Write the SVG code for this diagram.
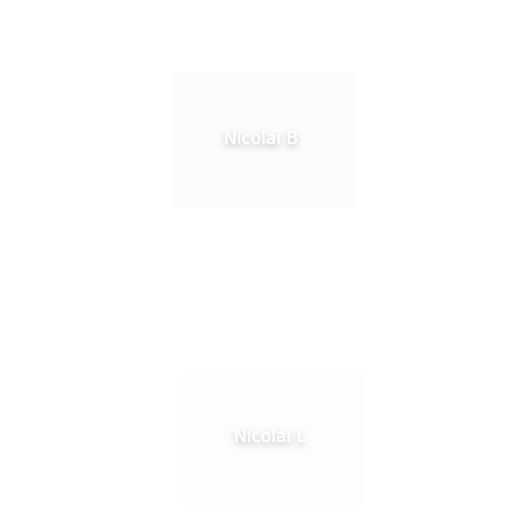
<svg xmlns="http://www.w3.org/2000/svg" width="512" height="512" viewBox="0 0 512 512">
<defs>
<style>
.box{fill:#fcfcfc;stroke:none}
.box2{fill:#fdfdfd;stroke:none}
.lbl{font-family:"DejaVu Sans","Liberation Sans",sans-serif;font-size:17px;fill:#ffffff;text-anchor:middle;filter:url(#glow)}
</style>
<filter id="glow" x="-50%" y="-100%" width="200%" height="300%">
<feDropShadow dx="0" dy="3" stdDeviation="3.5" flood-color="#000000" flood-opacity="0.3"/>
</filter>
</defs>
<rect width="512" height="512" fill="#ffffff"/>
<g id="connectors"></g>
<g id="node-nicolai-b">
<rect class="box" x="173" y="73" width="183" height="135"/>
<text class="lbl" x="261" y="144">Nicolai B</text>
</g>
<g id="node-nicolai-l">
<rect class="box2" x="183" y="372" width="180" height="133"/>
<text class="lbl" x="270" y="442">Nicolai L</text>
</g>
</svg>
